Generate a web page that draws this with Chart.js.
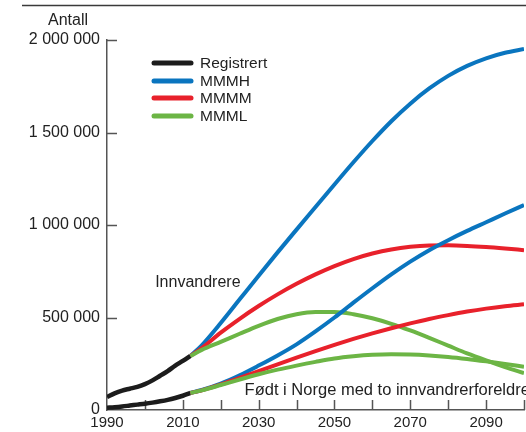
<!DOCTYPE html>
<html lang="no">
<head>
<meta charset="utf-8">
<title>Innvandrere og norskfødte med innvandrerforeldre</title>
<script src="https://cdn.jsdelivr.net/npm/chart.js@4.4.1/dist/chart.umd.min.js"></script>
<style>
  html, body { margin: 0; padding: 0; background: #fff; }
  #chart { display: block; }
</style>
</head>
<body>
<canvas id="chart" width="526" height="432"></canvas>
<script>
/* ---- Data ---- */
const regYears  = [1990, 1992, 1994, 1996, 1998, 2000, 2002, 2004, 2006, 2008, 2010, 2012];
const innvReg   = [70000, 90000, 105000, 115000, 125000, 140000, 160000, 185000, 210000, 240000, 265000, 292000];
const foedtReg  = [12000, 15000, 19000, 24000, 29000, 34000, 40000, 47000, 55000, 65000, 77000, 92000];

const projYears = [2012, 2015, 2020, 2025, 2030, 2035, 2040, 2045, 2050, 2055, 2060, 2065, 2070, 2075, 2080, 2085, 2090, 2095, 2100];
const innvMMMH  = [292000, 350000, 470000, 598000, 726000, 852000, 975000, 1097000, 1219000, 1339000, 1454000, 1561000, 1656000, 1738000, 1806000, 1860000, 1901000, 1931000, 1951000];
const innvMMMM  = [292000, 335000, 418000, 493000, 562000, 625000, 682000, 733000, 778000, 816000, 846000, 868000, 882000, 889000, 890000, 887000, 881000, 873000, 864000];
const innvMMML  = [292000, 325000, 368000, 412000, 455000, 492000, 518000, 530000, 530000, 518000, 496000, 466000, 430000, 390000, 348000, 306000, 268000, 232000, 200000];
const foedtMMMH = [92000, 108000, 143000, 188000, 240000, 295000, 355000, 425000, 500000, 580000, 658000, 733000, 802000, 864000, 918000, 968000, 1015000, 1062000, 1108000];
const foedtMMMM = [92000, 106000, 138000, 173000, 210000, 247000, 283000, 318000, 352000, 384000, 414000, 442000, 468000, 492000, 513000, 532000, 548000, 561000, 571000];
const foedtMMML = [92000, 106000, 135000, 165000, 193000, 218000, 240000, 260000, 278000, 290000, 298000, 301000, 300000, 295000, 287000, 276000, 263000, 249000, 234000];

const seriesNames  = ['Registrert', 'MMMH', 'MMMM', 'MMML'];
const seriesColors = ['#1c1c1c', '#0a75bf', '#e8212b', '#6cb545'];

const yTicks = [0, 500000, 1000000, 1500000, 2000000];
const xLabelYears = [1990, 2010, 2030, 2050, 2070, 2090];

const FONT = '"Liberation Sans", Arial, sans-serif';
const TXT = '#222';
const AXIS = '#555';

/* ---- helpers ---- */
const pts = (xs, ys) => xs.map((x, i) => ({ x, y: ys[i] }));
const fmtNum = (v) => String(v).replace(/\B(?=(\d{3})+(?!\d))/g, ' ');

function line(label, xs, ys, color, w) {
  return {
    label, data: pts(xs, ys),
    borderColor: color, backgroundColor: color,
    borderWidth: w, pointRadius: 0, fill: false,
    cubicInterpolationMode: 'monotone',
    borderCapStyle: 'butt', borderJoinStyle: 'round'
  };
}

/* ---- decorations: inner ticks, legend, texts ---- */
const decor = {
  id: 'decor',
  beforeDatasetsDraw(chart) {
    const { ctx, scales: { x, y } } = chart;
    ctx.save();
    ctx.strokeStyle = AXIS; ctx.lineWidth = 1.5;
    ctx.beginPath();
    yTicks.forEach(v => {
      if (v === 0) return;
      const py = Math.round(y.getPixelForValue(v)) + 0.5;
      ctx.moveTo(x.left, py); ctx.lineTo(x.left + 10, py);
    });
    for (let yr = 2000; yr <= 2100; yr += 10) {
      const px = Math.round(x.getPixelForValue(yr)) + 0.5;
      ctx.moveTo(px, y.bottom); ctx.lineTo(px, y.bottom - 10);
    }
    ctx.stroke();
    ctx.restore();
  },
  afterDraw(chart) {
    const { ctx, scales: { x, y } } = chart;
    ctx.save();
    // top rule
    ctx.strokeStyle = '#3a3a3a'; ctx.lineWidth = 1.5;
    ctx.beginPath(); ctx.moveTo(22, 5.5); ctx.lineTo(526, 5.5); ctx.stroke();

    ctx.fillStyle = TXT;
    ctx.font = '16px ' + FONT;
    ctx.textBaseline = 'middle';
    ctx.textAlign = 'center';
    ctx.fillText('Antall', 68, 21);

    // legend
    ctx.font = '15.5px ' + FONT;
    ctx.textAlign = 'left';
    const rows = [63, 81, 98, 116];
    seriesNames.forEach((n, i) => {
      ctx.strokeStyle = seriesColors[i];
      ctx.lineWidth = 5; ctx.lineCap = 'round';
      ctx.beginPath(); ctx.moveTo(154, rows[i]); ctx.lineTo(191, rows[i]); ctx.stroke();
      ctx.fillText(n, 200, rows[i] + 1);
    });

    // group labels
    ctx.font = '16px ' + FONT;
    ctx.fillText('Innvandrere', x.getPixelForValue(2002.7), y.getPixelForValue(690000));
    ctx.font = '16.5px ' + FONT;
    ctx.fillText('Født i Norge med to innvandrerforeldre', x.getPixelForValue(2026.3), y.getPixelForValue(108000));
    ctx.restore();
  }
};

/* ---- chart ---- */
const datasets = [
  line('MMML', projYears, foedtMMML, seriesColors[3], 4),
  line('MMMM', projYears, foedtMMMM, seriesColors[2], 4),
  line('MMMH', projYears, foedtMMMH, seriesColors[1], 4),
  line('MMML', projYears, innvMMML, seriesColors[3], 4),
  line('MMMM', projYears, innvMMMM, seriesColors[2], 4),
  line('MMMH', projYears, innvMMMH, seriesColors[1], 4),
  line('Registrert', regYears, foedtReg, seriesColors[0], 4.5),
  line('Registrert', regYears, innvReg, seriesColors[0], 4.5)
];

new Chart(document.getElementById('chart'), {
  type: 'line',
  data: { datasets },
  options: {
    responsive: false,
    animation: false,
    devicePixelRatio: 1,
    layout: { padding: { top: 40, right: 2, bottom: 0, left: 0 } },
    plugins: { legend: { display: false }, tooltip: { enabled: false } },
    scales: {
      x: {
        type: 'linear', min: 1990, max: 2100,
        afterFit: (s) => { s.height = 22; },
        afterBuildTicks: (s) => { s.ticks = xLabelYears.map(v => ({ value: v })); },
        grid: { display: true, drawOnChartArea: false, drawTicks: false },
        border: { display: true, color: AXIS, width: 1.5 },
        ticks: { color: TXT, font: { family: FONT, size: 15 }, padding: 4, maxRotation: 0, autoSkip: false,
                 callback: (v) => String(v) }
      },
      y: {
        type: 'linear', min: 0, max: 2000000,
        afterFit: (s) => { s.width = 107; },
        afterBuildTicks: (s) => { s.ticks = yTicks.map(v => ({ value: v })); },
        grid: { display: true, drawOnChartArea: false, drawTicks: false },
        border: { display: true, color: AXIS, width: 1.5 },
        ticks: { color: TXT, font: { family: FONT, size: 16 }, padding: 7,
                 callback: (v) => fmtNum(v) }
      }
    }
  },
  plugins: [decor]
});
</script>
</body>
</html>
